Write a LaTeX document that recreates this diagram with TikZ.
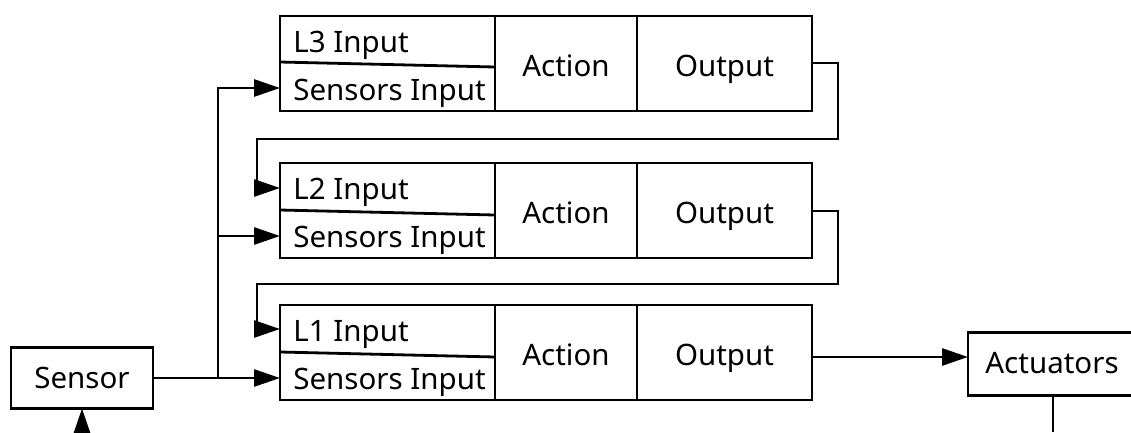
\documentclass[tikz,border=0pt]{standalone}
\usepackage{fontspec}
\setmainfont{Noto Sans}
\usetikzlibrary{arrows.meta,positioning}

\begin{document}
\begin{tikzpicture}[x=1pt,y=-1pt,line width=2.8pt,
    blk/.style={draw,minimum height=95,inner sep=0,outer sep=0,anchor=north west,
      text height=25pt,text depth=0pt},
    lbl/.style={inner sep=0,anchor=base west},
    arr/.style={-{Triangle[length=26pt,width=17pt]}},
    font=\fontsize{29.5}{34}\selectfont]
                \useasboundingbox (0,0) rectangle (1131,432);
                % level 3
                \node[blk,minimum width=215] (in3) at (280,16) {};
                \node[blk,minimum width=142] (act3) at (in3.north east) {Action};
                \node[blk,minimum width=175] (out3) at (act3.north east) {Output};
                \draw (280,62) -- (495,67);
                \node[lbl] (l3) at (292,52) {L3 Input};
                \node[lbl] (s3) at (292,100) {Sensors Input};
                % level 2
                \node[blk,minimum width=215] (in2) at (280,163) {};
                \node[blk,minimum width=142] (act2) at (in2.north east) {Action};
                \node[blk,minimum width=175] (out2) at (act2.north east) {Output};
                \draw (280,210) -- (495,215);
                \node[lbl] (l2) at (292,199) {L2 Input};
                \node[lbl] (s2) at (292,247) {Sensors Input};
                % level 1
                \node[blk,minimum width=215] (in1) at (280,305) {};
                \node[blk,minimum width=142] (act1) at (in1.north east) {Action};
                \node[blk,minimum width=175] (out1) at (act1.north east) {Output};
                \draw (280,352) -- (495,357);
                \node[lbl] (l1) at (292,341) {L1 Input};
                \node[lbl] (s1) at (292,389) {Sensors Input};
                % sensor and actuators
                \node[blk,anchor=center,minimum width=142,minimum height=61,text height=20pt] (sensor) at (82,378) {Sensor};
                \node[blk,anchor=center,minimum width=168,minimum height=63,text height=19pt] (actu) at (1052,364) {Actuators};
                \coordinate (trunk) at (218,378);
                \coordinate (fbin) at (sensor.south |- 0,432);
                \coordinate (fbout) at (1053,432);
                % sensor lines
                \draw (sensor.east) -- (trunk);
                \draw[arr] (trunk) -- (in1.west |- 0,378);
                \draw[arr] (trunk) |- (in2.west |- 0,236);
                \draw[arr] (trunk) |- (in3.west |- 0,88);
                % level to level
                \draw[arr] (out3.east |- 0,63) -- (838,63) -- (838,139) -- (257,139) |- (in2.west |- 0,188);
                \draw[arr] (out2.east |- 0,211) -- (838,211) -- (838,284) -- (257,284) |- (in1.west |- 0,329);
                \draw[arr] (out1.east |- 0,357) -- (actu.west |- 0,357);
                \draw (actu.south -| fbout) -- (fbout);
                \draw[arr] (fbin) -- (sensor.south);
            \end{tikzpicture}
\end{document}
